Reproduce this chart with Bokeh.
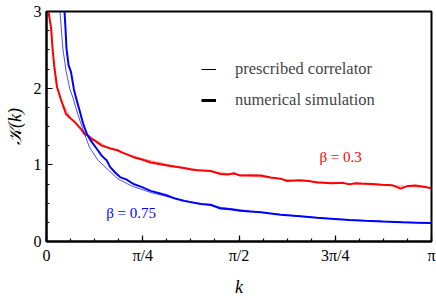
import math
from bokeh.plotting import figure
from bokeh.models import (FixedTicker, CustomJSTickFormatter, Legend, LegendItem,
                          Label)
from bokeh.embed import file_html
from bokeh.resources import INLINE

PI = math.pi
NAN = float("nan")

# beta = 0.3, numerical simulation (thick red)
k_red_sim = [0.016, 0.038, 0.049, 0.065, 0.085, 0.12, 0.16, 0.20, 0.23, 0.28, 0.31, 0.34,
             0.365, 0.39, 0.45, 0.53, 0.58, 0.62, 0.71, 0.78, 0.85, 0.92, 0.985, 1.05,
             1.12, 1.18, 1.23, 1.34, 1.42, 1.48, 1.53, 1.58, 1.66, 1.75, 1.83, 1.91,
             1.96, 2.07, 2.14, 2.21, 2.33, 2.42, 2.47, 2.52, 2.57, 2.66, 2.74, 2.82,
             2.89, 2.95, 3.01, 3.08, 3.14]
K_red_sim = [3.0, 2.78, 2.52, 2.26, 2.02, 1.84, 1.66, 1.60, 1.56, 1.47, 1.40, 1.38,
             1.34, 1.32, 1.25, 1.21, 1.19, 1.16, 1.10, 1.07, 1.03, 1.01, 0.99, 0.975,
             0.96, 0.94, 0.93, 0.92, 0.88, 0.875, 0.89, 0.86, 0.865, 0.86, 0.835, 0.82,
             0.79, 0.80, 0.79, 0.77, 0.76, 0.765, 0.745, 0.76, 0.755, 0.75, 0.74, 0.735,
             0.69, 0.725, 0.73, 0.715, 0.695]

# beta = 0.3, prescribed correlator (thin red)
k_red_th = [0.016, 0.04, 0.06, 0.09, 0.13, 0.2, 0.3, 0.4, 0.5, 0.6, 0.8, 1.0, 1.2,
            1.4, 1.6, 1.8, 2.0, 2.2, 2.4, 2.6, 2.8, 3.0, 3.14]
K_red_th = [3.0, 2.72, 2.35, 2.0, 1.80, 1.60, 1.44, 1.32, 1.23, 1.17, 1.07, 1.0, 0.945,
            0.90, 0.865, 0.835, 0.80, 0.78, 0.76, 0.745, 0.73, 0.715, 0.70]

# beta = 0.75, numerical simulation (thick blue)
k_blue_sim = [0.147, 0.155, 0.163, 0.18, 0.20, 0.223, 0.24, 0.27, 0.30, 0.33, 0.36,
              0.41, 0.45, 0.49, 0.52, 0.56, 0.60, 0.65, 0.71, 0.78, 0.85, 0.92, 0.985,
              1.05, 1.12, 1.26, 1.34, 1.42, 1.50, 1.58, 1.66, 1.75, 1.83, 1.91, 2.07,
              2.21, 2.35, 2.47, 2.60, 2.74, 2.90, 3.02, 3.14]
K_blue_sim = [3.0, 2.78, 2.52, 2.30, 2.21, 1.99, 1.88, 1.71, 1.53, 1.40, 1.32,
              1.21, 1.12, 1.06, 0.97, 0.90, 0.84, 0.81, 0.75, 0.71, 0.66, 0.63, 0.60,
              0.56, 0.53, 0.49, 0.48, 0.43, 0.42, 0.40, 0.39, 0.38, 0.365, 0.35, 0.33,
              0.31, 0.295, 0.28, 0.27, 0.26, 0.25, 0.245, 0.24]

# beta = 0.75, prescribed correlator (thin blue)
k_blue_th = [0.11, 0.133, 0.16, 0.19, 0.215, 0.255, 0.30, 0.35, 0.42, 0.5, 0.58, 0.7,
             0.85, 1.0, 1.2, 1.4, 1.6, 1.8, 2.0, 2.2, 2.5, 2.8, 3.14]
K_blue_th = [3.0, 2.52, 2.22, 1.99, 1.88, 1.66, 1.45, 1.23, 1.06, 0.94, 0.82, 0.72,
             0.64, 0.58, 0.51, 0.45, 0.41, 0.37, 0.34, 0.31, 0.28, 0.26, 0.24]

x_major = [0, PI / 4, PI / 2, 3 * PI / 4, PI]
x_tick_labels = ["0", "π/4", "π/2", "3π/4", "π"]
x_minor = [i * PI / 16 for i in range(17)]
y_major = [0, 1, 2, 3]
y_minor = [i * 0.25 for i in range(13)]

legend_labels = ["prescribed correlator", "numerical simulation"]

RED = "#ff0000"
BLUE = "#0000ff"
FONT = "Liberation Serif"

p = figure(width=436, height=300, x_range=(0, PI), y_range=(0, 3),
           output_backend="svg", toolbar_location=None,
           min_border_left=46, min_border_right=5, min_border_top=11,
           min_border_bottom=59)
p.xgrid.visible = False
p.ygrid.visible = False
p.outline_line_color = "black"
p.outline_line_width = 2
p.background_fill_color = "white"
p.border_fill_color = "white"

p.line(k_red_th, K_red_th, line_color=RED, line_width=1, line_alpha=0.5)
p.line(k_red_sim, K_red_sim, line_color=RED, line_width=2)
p.line(k_blue_th, K_blue_th, line_color=BLUE, line_width=1, line_alpha=0.7)
p.line(k_blue_sim, K_blue_sim, line_color=BLUE, line_width=2)

# legend proxies (black, no visible data)
r_thin = p.line([NAN], [NAN], line_color="black", line_width=1)
r_thick = p.line([NAN], [NAN], line_color="black", line_width=3)
legend = Legend(items=[LegendItem(label=legend_labels[0], renderers=[r_thin]),
                       LegendItem(label=legend_labels[1], renderers=[r_thick])],
                location=(155, 131), padding=0, margin=0, spacing=11,
                glyph_width=15, glyph_height=20, label_standoff=19,
                label_text_font=FONT, label_text_font_size="16.5px",
                border_line_color=None, background_fill_alpha=0)
p.add_layout(legend)

p.add_layout(Label(x=2.40, y=1.10, text="β = 0.3", text_color=RED,
                   text_font=FONT, text_font_size="15px",
                   text_align="center", text_baseline="middle"))
p.add_layout(Label(x=0.69, y=0.37, text="β = 0.75", text_color=BLUE,
                   text_font=FONT, text_font_size="15px",
                   text_align="center", text_baseline="middle"))

xa = p.xaxis[0]
ya = p.yaxis[0]
xa.ticker = FixedTicker(ticks=x_major, minor_ticks=x_minor)
xa.formatter = CustomJSTickFormatter(args=dict(labels=x_tick_labels),
                                     code="return labels[Math.round(tick/(Math.PI/4))];")
ya.ticker = FixedTicker(ticks=y_major, minor_ticks=y_minor)
xa.axis_label = "k"
ya.axis_label = "𝒦(k)"
for ax in (xa, ya):
    ax.axis_line_width = 2
    ax.axis_line_color = "black"
    ax.major_tick_in = 6
    ax.major_tick_out = 0
    ax.minor_tick_in = 3
    ax.minor_tick_out = 0
    ax.major_tick_line_width = 1.2
    ax.minor_tick_line_width = 1.2
    ax.major_label_text_font = FONT
    ax.major_label_text_font_size = "16px"
    ax.major_label_text_color = "black"
    ax.major_label_standoff = 5
    ax.axis_label_text_font = FONT
    ax.axis_label_text_font_size = "18px"
    ax.axis_label_text_font_style = "italic"
    ax.axis_label_text_color = "black"
xa.axis_label_standoff = 10
ya.axis_label_standoff = 6

open("out.html", "w").write(file_html(p, INLINE))
